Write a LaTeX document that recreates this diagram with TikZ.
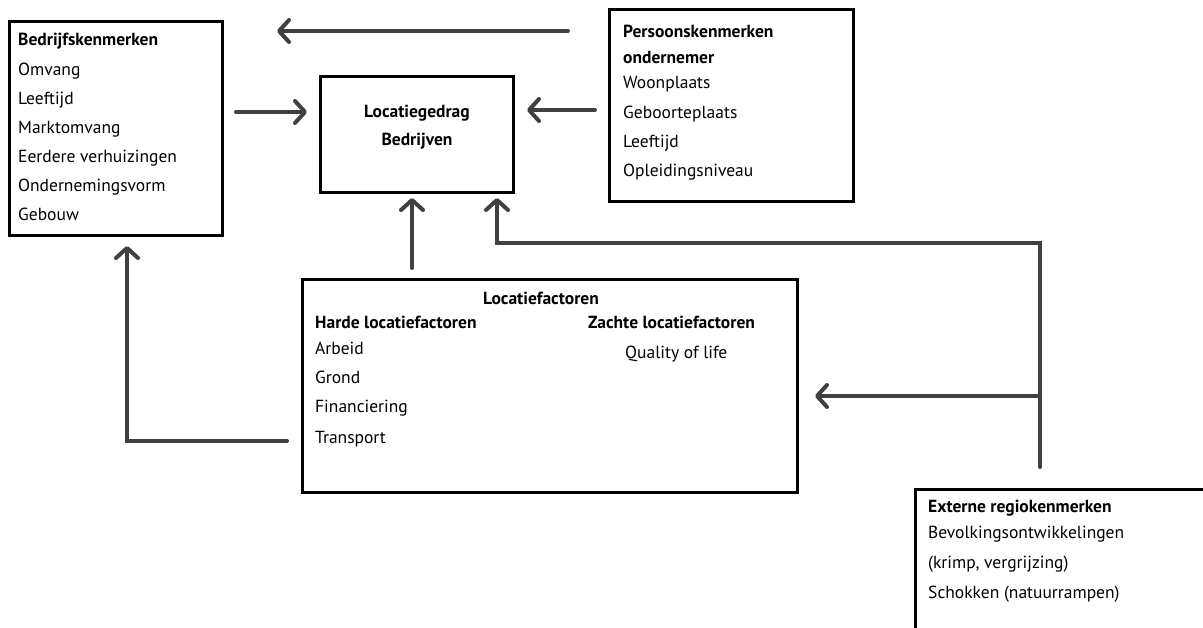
\documentclass[tikz,border=0pt]{standalone}
\usepackage{fontspec}
\setmainfont{PT Sans}
\usetikzlibrary{arrows.meta,positioning}
\definecolor{arrowgrey}{HTML}{404040}
\tikzset{
  box/.style={draw=black, line width=3pt, rectangle, inner sep=0pt},
  txt/.style={anchor=base west, inner sep=0pt, font=\fontsize{17.5}{20}\selectfont},
  hdr/.style={anchor=base west, inner sep=0pt, font=\fontsize{17.5}{20}\selectfont\bfseries},
  conn/.style={draw=arrowgrey, line width=4pt, line cap=round, line join=miter,
    -{Straight Barb[length=10pt,width=22pt,line cap=round,line join=round]}},
  plain/.style={draw=arrowgrey, line width=4pt, line cap=round, line join=miter}
}
\begin{document}
\begin{tikzpicture}[x=1pt,y=-1pt]
\useasboundingbox (0,0) rectangle (1203,628);
\fill[white] (0,0) rectangle (1203,628);

% Boxes
\node[box, minimum width=213pt, minimum height=214pt] (bk) at (115.5,129) {};
\node[box, minimum width=193pt, minimum height=116pt] (lg) at (416.5,135) {};
\node[box, minimum width=244pt, minimum height=192pt] (pk) at (731,106) {};
\node[box, minimum width=495pt, minimum height=212pt] (lf) at (549.5,386) {};
\begin{scope}
\clip (0,0) rectangle (1203,628);
\node[box, minimum width=305pt, minimum height=151pt] (ex) at (1067.5,564.5) {};
\end{scope}

% Bedrijfskenmerken
\node[hdr] (bk0) at (18,46) {Bedrijfskenmerken};
\node[txt] (bk1) at (18,76) {Omvang};
\node[txt] (bk2) at (18,105) {Leeftijd};
\node[txt] (bk3) at (18,134) {Marktomvang};
\node[txt] (bk4) at (18,163) {Eerdere verhuizingen};
\node[txt] (bk5) at (18,192) {Ondernemingsvorm};
\node[txt] (bk6) at (18,221) {Gebouw};

% Locatiegedrag
\node[hdr, anchor=base] (lg1) at (417,118) {Locatiegedrag};
\node[hdr, anchor=base] (lg2) at (417,146) {Bedrijven};

% Persoonskenmerken
\node[hdr] (pk0) at (623,38) {Persoonskenmerken};
\node[hdr] (pk1) at (623,64) {ondernemer};
\node[txt] (pk2) at (623,89) {Woonplaats};
\node[txt] (pk3) at (623,119) {Geboorteplaats};
\node[txt] (pk4) at (623,148) {Leeftijd};
\node[txt] (pk5) at (623,177) {Opleidingsniveau};

% Locatiefactoren
\node[hdr, anchor=base] (lf0) at (541,305) {Locatiefactoren};
\node[hdr] (lf1) at (315,329) {Harde locatiefactoren};
\node[hdr] (lf2) at (588,329) {Zachte locatiefactoren};
\node[txt] (lf3) at (315,355) {Arbeid};
\node[txt] (lf4) at (315,384) {Grond};
\node[txt] (lf5) at (315,413) {Financiering};
\node[txt] (lf6) at (315,443) {Transport};
\node[txt] (lf7) at (625,359) {Quality of life};

% Externe regiokenmerken
\node[hdr] (ex0) at (928,512) {Externe regiokenmerken};
\node[txt] (ex1) at (928,538) {Bevolkingsontwikkelingen};
\node[txt] (ex2) at (928,568) {(krimp, vergrijzing)};
\node[txt] (ex3) at (928,598) {Schokken (natuurrampen)};

% Connector end points
\coordinate (a1s) at (568,31);  \coordinate (a1e) at (277,31);
\coordinate (a2s) at (236,112); \coordinate (a2e) at (307,112);
\coordinate (a3s) at (595,110); \coordinate (a3e) at (527,110);
\coordinate (a4s) at (412,268); \coordinate (a4e) at (412,198);
\coordinate (a5s) at (1040,467); \coordinate (a5c1) at (1040,243);
\coordinate (a5c2) at (497,243); \coordinate (a5e) at (497,198);
\coordinate (a6s) at (1040,396); \coordinate (a6e) at (815,396);
\coordinate (a7s) at (287,441); \coordinate (a7c) at (127,441);
\coordinate (a7e) at (127,246);

\draw[conn] (a1s) -- (a1e);
\draw[conn] (a2s) -- (a2e);
\draw[conn] (a3s) -- (a3e);
\draw[conn] (a4s) -- (a4e);
\draw[conn] (a5s) -- (a5c1) -- (a5c2) -- (a5e);
\draw[conn] (a6s) -- (a6e);
\draw[conn] (a7s) -- (a7c) -- (a7e);
\end{tikzpicture}
\end{document}
